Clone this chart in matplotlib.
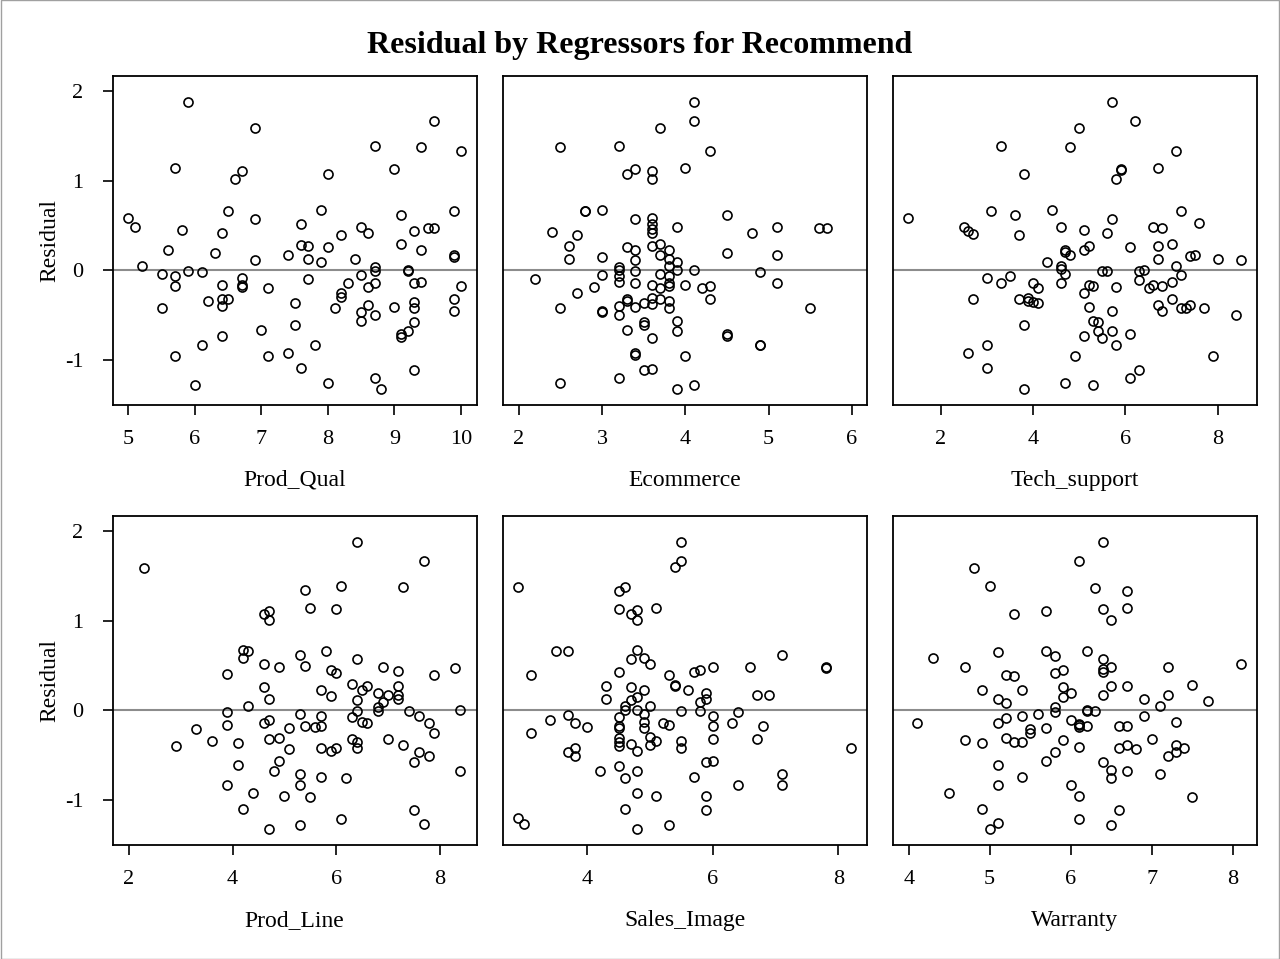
import matplotlib
matplotlib.use('Agg')
import matplotlib.pyplot as plt
from matplotlib.patches import Rectangle

plt.rcParams['font.family'] = ['Liberation Serif', 'DejaVu Serif']
plt.rcParams['axes.unicode_minus'] = False

# (regressor value, residual)
prod_qual = [
    (5.9, 1.88), (6.9, 1.59), (5.7, 1.14), (6.7, 1.11), (6.6, 1.02), (5.0, 0.58), (5.1, 0.48),
    (6.5, 0.66), (6.9, 0.57), (5.8, 0.45), (6.4, 0.41), (5.6, 0.22), (6.3, 0.19), (6.9, 0.11),
    (7.4, 0.17), (5.2, 0.05), (5.5, -0.04), (5.7, -0.07), (5.9, -0.01), (6.1, -0.02), (5.7, -0.18),
    (6.4, -0.17), (6.7, -0.09), (6.7, -0.19), (6.7, -0.17), (7.1, -0.20), (5.5, -0.42), (6.2, -0.34),
    (6.4, -0.32), (6.5, -0.32), (6.4, -0.40), (7.5, -0.37), (7.5, -0.61), (7.0, -0.67), (6.4, -0.74),
    (6.1, -0.83), (5.7, -0.96), (7.1, -0.96), (7.4, -0.92), (7.6, -1.09), (6.0, -1.28), (7.6, 0.52),
    (7.6, 0.28),
    (9.6, 1.66), (8.7, 1.39), (9.4, 1.37), (10.0, 1.33), (9.0, 1.13), (8.0, 1.07), (7.9, 0.67),
    (9.9, 0.66), (9.1, 0.62), (8.5, 0.48), (8.6, 0.42), (9.5, 0.47), (9.6, 0.47), (9.3, 0.44),
    (8.2, 0.39), (7.7, 0.27), (8.0, 0.26), (9.1, 0.29), (9.4, 0.22), (7.7, 0.12), (7.9, 0.09),
    (8.4, 0.12), (9.9, 0.17), (9.9, 0.15), (8.7, 0.04), (8.7, -0.01), (9.2, 0.0), (9.2, -0.01),
    (8.5, -0.05), (7.7, -0.10), (8.3, -0.14), (8.7, -0.14), (9.3, -0.14), (9.4, -0.13), (10.0, -0.18),
    (8.6, -0.19), (8.2, -0.25), (8.2, -0.30), (8.1, -0.42), (8.6, -0.39), (8.5, -0.47), (8.5, -0.57),
    (8.7, -0.50), (9.0, -0.41), (9.3, -0.35), (9.3, -0.42), (9.9, -0.32), (9.9, -0.46), (9.3, -0.58),
    (9.2, -0.68), (9.1, -0.71), (9.1, -0.75), (7.8, -0.83), (8.0, -1.26), (8.7, -1.20), (8.8, -1.33),
    (9.3, -1.12),
]

ecommerce = [
    (3.7, 1.59), (2.5, 1.37), (3.2, 1.39), (3.4, 1.13), (3.3, 1.07), (3.6, 1.11), (3.6, 1.02),
    (4.0, 1.14), (2.8, 0.66), (2.8, 0.66), (3.0, 0.67), (3.4, 0.57), (3.6, 0.58), (3.6, 0.52),
    (3.6, 0.46), (3.6, 0.41), (3.9, 0.48), (2.4, 0.43), (2.7, 0.39), (2.6, 0.27), (3.3, 0.26),
    (3.4, 0.22), (3.6, 0.27), (3.7, 0.29), (3.8, 0.22), (3.7, 0.17), (2.6, 0.12), (3.0, 0.15),
    (3.4, 0.11), (3.8, 0.12), (3.9, 0.09), (3.8, 0.05), (3.2, 0.04), (3.2, 0.0), (3.4, -0.01),
    (3.9, 0.0), (2.2, -0.10), (3.0, -0.05), (3.2, -0.06), (3.2, -0.13), (3.4, -0.14), (3.7, -0.04),
    (3.8, -0.07), (3.8, -0.14), (3.8, -0.18), (3.6, -0.17), (3.7, -0.20), (4.0, -0.17), (2.9, -0.19),
    (2.7, -0.25), (2.5, -0.42), (3.0, -0.46), (3.0, -0.47), (3.2, -0.40), (3.2, -0.50), (3.3, -0.32),
    (3.3, -0.34), (3.4, -0.41), (3.5, -0.37), (3.6, -0.31), (3.6, -0.38), (3.7, -0.32), (3.8, -0.34),
    (3.8, -0.42), (3.5, -0.58), (3.5, -0.61), (3.3, -0.67), (3.9, -0.57), (3.9, -0.68), (3.6, -0.76),
    (3.4, -0.92), (3.4, -0.95), (4.0, -0.96), (2.5, -1.26), (3.2, -1.20), (3.5, -1.12), (3.6, -1.10),
    (3.9, -1.33),
    (4.1, 1.88), (4.1, 1.66), (4.3, 1.33), (4.5, 0.62), (4.8, 0.42), (5.1, 0.48), (5.6, 0.47),
    (5.7, 0.47), (4.5, 0.19), (5.1, 0.17), (4.1, 0.0), (4.9, -0.02), (4.2, -0.20), (4.3, -0.18),
    (4.3, -0.32), (5.1, -0.14), (5.5, -0.42), (4.5, -0.71), (4.5, -0.74), (4.9, -0.83), (4.9, -0.84),
    (4.1, -1.28),
]

tech_support = [
    (3.3, 1.39), (4.8, 1.37), (3.8, 1.07), (1.3, 0.58), (3.1, 0.66), (3.6, 0.62), (4.4, 0.67),
    (2.5, 0.48), (2.6, 0.44), (2.7, 0.40), (3.7, 0.39), (4.6, 0.48), (4.7, 0.22), (4.7, 0.20),
    (4.8, 0.17), (4.3, 0.09), (4.6, 0.05), (4.6, 0.01), (4.7, -0.04), (3.0, -0.09), (3.5, -0.07),
    (3.3, -0.14), (4.0, -0.14), (4.1, -0.20), (4.6, -0.14), (2.7, -0.32), (3.7, -0.32), (3.9, -0.31),
    (3.9, -0.34), (4.0, -0.35), (4.1, -0.37), (3.8, -0.61), (3.0, -0.83), (2.6, -0.92), (3.0, -1.09),
    (4.9, -0.96), (3.8, -1.33), (4.7, -1.26),
    (5.7, 1.88), (5.0, 1.59), (6.2, 1.66), (7.1, 1.33), (5.9, 1.13), (5.9, 1.12), (5.8, 1.02),
    (6.7, 1.14), (7.2, 0.66), (7.6, 0.53), (5.1, 0.45), (5.7, 0.57), (5.6, 0.42), (6.6, 0.48),
    (6.8, 0.47), (5.1, 0.22), (5.2, 0.27), (6.1, 0.26), (6.7, 0.27), (7.0, 0.29), (6.7, 0.12),
    (7.4, 0.16), (7.5, 0.17), (8.0, 0.12), (8.5, 0.11), (7.1, 0.05), (5.5, -0.01), (5.6, -0.01),
    (6.3, -0.01), (6.4, 0.0), (6.3, -0.11), (7.2, -0.05), (5.2, -0.17), (5.3, -0.18), (5.1, -0.25),
    (5.8, -0.19), (6.5, -0.20), (6.6, -0.17), (6.8, -0.18), (7.0, -0.13), (5.2, -0.41), (5.7, -0.46),
    (6.7, -0.39), (6.8, -0.46), (7.0, -0.32), (7.2, -0.42), (7.3, -0.42), (7.4, -0.39), (7.7, -0.42),
    (8.4, -0.50), (5.3, -0.57), (5.4, -0.58), (5.4, -0.68), (5.7, -0.68), (5.5, -0.76), (5.8, -0.83),
    (6.1, -0.71), (5.1, -0.74), (7.9, -0.96), (6.1, -1.20), (6.3, -1.12), (5.3, -1.28),
]

prod_line = [
    (2.3, 1.59), (4.6, 1.07), (4.7, 1.11), (4.7, 1.01), (4.2, 0.67), (4.3, 0.66), (4.2, 0.58),
    (4.6, 0.52), (4.9, 0.48), (3.9, 0.40), (4.6, 0.26), (4.7, 0.12), (4.3, 0.05), (3.9, -0.02),
    (3.3, -0.21), (3.9, -0.17), (4.6, -0.14), (4.7, -0.11), (5.1, -0.20), (2.9, -0.40), (3.6, -0.34),
    (4.1, -0.37), (4.7, -0.32), (4.9, -0.31), (5.1, -0.43), (4.1, -0.61), (4.9, -0.57), (4.8, -0.68),
    (3.9, -0.84), (4.4, -0.93), (5.0, -0.96), (4.2, -1.10), (4.7, -1.33),
    (6.4, 1.88), (7.7, 1.67), (5.4, 1.34), (6.1, 1.39), (7.3, 1.37), (5.5, 1.14), (6.0, 1.13),
    (5.3, 0.62), (5.8, 0.66), (6.4, 0.57), (5.4, 0.49), (5.9, 0.45), (6.0, 0.42), (6.9, 0.48),
    (7.2, 0.44), (7.9, 0.39), (8.3, 0.47), (5.7, 0.22), (5.9, 0.16), (6.3, 0.29), (6.5, 0.22),
    (6.6, 0.27), (6.4, 0.11), (6.8, 0.19), (7.0, 0.17), (7.2, 0.27), (7.2, 0.17), (7.2, 0.12),
    (6.9, 0.09), (6.8, 0.04), (6.8, -0.01), (6.4, -0.01), (5.3, -0.04), (5.7, -0.07), (6.3, -0.08),
    (7.4, -0.01), (7.6, -0.06), (8.4, 0.0), (6.5, -0.13), (6.6, -0.14), (7.8, -0.14), (7.9, -0.25),
    (5.4, -0.18), (5.6, -0.19), (5.7, -0.18), (5.7, -0.42), (5.9, -0.46), (6.0, -0.42), (6.3, -0.32),
    (6.4, -0.35), (6.4, -0.42), (7.0, -0.32), (7.3, -0.39), (7.6, -0.47), (7.8, -0.51), (7.5, -0.58),
    (8.4, -0.68), (5.3, -0.71), (5.3, -0.84), (5.7, -0.75), (6.2, -0.76), (5.5, -0.97), (6.1, -1.21),
    (5.3, -1.28), (7.5, -1.12), (7.7, -1.27),
]

sales_image = [
    (5.5, 1.88), (5.5, 1.67), (5.4, 1.60), (2.9, 1.38), (4.5, 1.33), (4.6, 1.37), (4.5, 1.13),
    (4.7, 1.07), (4.8, 1.12), (4.8, 1.01), (5.1, 1.14), (3.5, 0.66), (3.7, 0.66), (4.8, 0.67),
    (4.7, 0.57), (4.9, 0.58), (5.0, 0.52), (4.5, 0.43), (3.1, 0.39), (5.3, 0.39), (5.4, 0.28),
    (5.4, 0.27), (4.3, 0.27), (4.7, 0.26), (4.9, 0.22), (4.8, 0.15), (4.7, 0.11), (4.3, 0.12),
    (4.6, 0.05), (4.6, 0.0), (5.0, 0.05), (4.8, 0.0), (5.5, -0.01), (4.5, -0.08), (3.7, -0.05),
    (3.4, -0.11), (3.8, -0.14), (4.0, -0.19), (4.9, -0.04), (4.9, -0.13), (4.9, -0.20), (4.5, -0.18),
    (4.5, -0.20), (5.2, -0.14), (5.3, -0.17), (3.1, -0.25), (4.5, -0.31), (4.5, -0.35), (4.5, -0.40),
    (4.7, -0.38), (4.8, -0.46), (5.0, -0.30), (5.0, -0.39), (5.1, -0.34), (5.5, -0.34), (5.5, -0.42),
    (3.7, -0.47), (3.8, -0.42), (3.8, -0.51), (4.2, -0.68), (4.5, -0.62), (4.6, -0.76), (4.8, -0.68),
    (4.8, -0.92), (5.1, -0.96), (4.6, -1.10), (2.9, -1.20), (3.0, -1.27), (4.8, -1.33), (5.3, -1.28),
    (7.1, 0.62), (5.7, 0.43), (5.8, 0.45), (6.0, 0.48), (6.6, 0.48), (7.8, 0.48), (7.8, 0.47),
    (5.6, 0.22), (5.9, 0.19), (5.9, 0.12), (5.8, 0.09), (6.7, 0.17), (6.9, 0.17), (5.8, -0.01),
    (6.4, -0.02), (6.0, -0.07), (6.0, -0.18), (6.3, -0.14), (6.8, -0.18), (6.0, -0.32), (6.7, -0.32),
    (8.2, -0.42), (5.9, -0.58), (6.0, -0.57), (5.7, -0.75), (6.4, -0.84), (7.1, -0.71), (7.1, -0.84),
    (5.9, -0.96), (5.9, -1.12),
]

warranty = [
    (4.8, 1.59), (5.0, 1.39), (5.3, 1.07), (5.7, 1.11), (4.3, 0.58), (4.7, 0.48), (5.1, 0.65),
    (5.7, 0.66), (5.8, 0.61), (5.2, 0.39), (5.3, 0.38), (5.8, 0.42), (5.9, 0.45), (4.9, 0.22),
    (5.4, 0.22), (5.9, 0.26), (5.9, 0.15), (6.0, 0.19), (5.1, 0.12), (5.2, 0.08), (5.8, 0.04),
    (5.8, -0.02), (5.6, -0.04), (4.1, -0.14), (5.1, -0.14), (5.2, -0.09), (5.4, -0.07), (5.5, -0.21),
    (5.5, -0.25), (5.7, -0.20), (6.0, -0.11), (4.7, -0.33), (4.9, -0.37), (5.2, -0.31), (5.3, -0.35),
    (5.4, -0.35), (5.9, -0.33), (5.8, -0.47), (5.7, -0.57), (5.1, -0.61), (5.4, -0.75), (5.1, -0.84),
    (6.0, -0.84), (4.5, -0.93), (4.9, -1.10), (5.1, -1.26), (5.0, -1.33),
    (6.4, 1.88), (6.1, 1.66), (6.3, 1.36), (6.7, 1.33), (6.4, 1.13), (6.7, 1.14), (6.5, 1.01),
    (6.2, 0.66), (6.4, 0.57), (6.4, 0.46), (6.4, 0.43), (6.5, 0.48), (7.2, 0.48), (8.1, 0.52),
    (6.5, 0.27), (6.7, 0.27), (6.4, 0.17), (6.9, 0.12), (7.2, 0.17), (7.5, 0.28), (7.7, 0.10),
    (7.1, 0.05), (6.2, 0.0), (6.2, -0.01), (6.3, -0.01), (6.1, -0.15), (6.1, -0.17), (6.1, -0.19),
    (6.2, -0.18), (6.9, -0.06), (6.6, -0.18), (6.7, -0.18), (7.3, -0.13), (6.1, -0.41), (6.6, -0.42),
    (6.7, -0.39), (6.8, -0.43), (7.0, -0.32), (7.3, -0.39), (7.4, -0.42), (7.3, -0.47), (7.2, -0.51),
    (6.4, -0.58), (6.5, -0.67), (6.5, -0.76), (6.7, -0.68), (7.1, -0.71), (6.1, -0.96), (7.5, -0.97),
    (6.6, -1.12), (6.1, -1.21), (6.5, -1.28),
]

labels = ['Prod_Qual', 'Ecommerce', 'Tech_support', 'Prod_Line', 'Sales_Image', 'Warranty']
series = [prod_qual, ecommerce, tech_support, prod_line, sales_image, warranty]
xticks = [[5, 6, 7, 8, 9, 10], [2, 3, 4, 5, 6], [2, 4, 6, 8],
          [2, 4, 6, 8], [4, 6, 8], [4, 5, 6, 7, 8]]
xlims = [(4.762, 10.236), (1.808, 6.178), (0.961, 8.84),
         (1.685, 8.715), (2.652, 8.453), (3.802, 8.296)]

fig = plt.figure(figsize=(12.8, 9.59), dpi=100)
lefts = [0.0880, 0.3927, 0.6974]
bottoms = [0.5777, 0.1189]
w, h = 0.2844, 0.3431

for i in range(6):
    row, col = divmod(i, 3)
    ax = fig.add_axes([lefts[col], bottoms[row], w, h])
    xs = [p[0] for p in series[i]]
    ys = [p[1] for p in series[i]]
    ax.axhline(0, color='#8c8c8c', lw=1.5, zorder=1)
    ax.plot(xs, ys, 'o', mfc='none', mec='black', ms=6.5, mew=1.2, zorder=2)
    ax.set_xlim(xlims[i])
    ax.set_ylim(-1.505, 2.168)
    ax.set_xticks(xticks[i])
    ax.set_yticks([-1, 0, 1, 2])
    for s in ax.spines.values():
        s.set_linewidth(1.3)
    ax.tick_params(direction='out', length=7, width=1.2, labelsize=16)
    ax.tick_params(axis='x', pad=11)
    ax.tick_params(axis='y', pad=14)
    if col > 0:
        ax.tick_params(left=False, labelleft=False)
    else:
        ax.set_ylabel('Residual', fontsize=17, labelpad=3)
    ax.set_xlabel(labels[i], fontsize=17, labelpad=15)

fig.text(0.5, 0.953, 'Residual by Regressors for Recommend', ha='center', va='center',
         fontsize=23, fontweight='bold')
fig.patches.append(Rectangle((0.0004, 0.0005), 0.9992, 0.999, transform=fig.transFigure,
                             fill=False, edgecolor='#a0a0a0', lw=1))

fig.savefig('out.png', dpi=100)
